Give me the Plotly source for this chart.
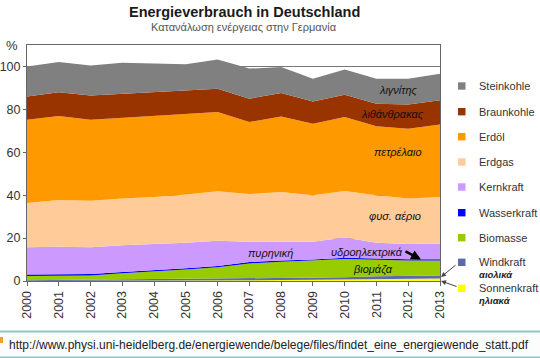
import plotly.graph_objects as go

# ---------------- data (percent, 2000 total = 100) ----------------
years = list(range(2000, 2014))
year_labels = [str(y) for y in years]

steinkohle = [14.0, 14.0, 14.0, 14.4, 13.4, 12.3, 13.6, 14.0, 12.1, 10.6, 11.8, 11.7, 12.0, 12.4]
braunkohle = [10.8, 11.1, 11.3, 11.2, 11.3, 11.0, 10.8, 10.9, 10.9, 10.4, 10.4, 10.5, 11.3, 11.3]
erdoel = [38.8, 39.2, 37.8, 37.6, 37.5, 37.4, 37.0, 33.6, 35.2, 33.3, 34.4, 32.1, 32.5, 33.7]
erdgas = [20.7, 21.7, 21.7, 21.8, 22.0, 22.5, 23.0, 22.2, 23.2, 21.7, 21.7, 22.2, 21.3, 21.7]
kernkraft = [12.7, 12.9, 12.4, 12.5, 12.2, 11.8, 11.8, 9.5, 8.7, 8.3, 9.5, 7.4, 7.1, 7.4]
wasserkraft = [0.7, 0.7, 0.7, 0.6, 0.6, 0.6, 0.6, 0.6, 0.6, 0.5, 0.6, 0.5, 0.6, 0.6]
biomasse = [2.0, 2.0, 2.05, 2.9, 3.55, 4.5, 5.3, 6.85, 7.55, 7.95, 8.45, 7.65, 7.1, 6.9]
windkraft = [0.3, 0.4, 0.5, 0.6, 0.7, 0.7, 0.8, 1.0, 1.0, 1.0, 1.0, 1.3, 1.3, 1.4]
sonnenkraft = [0.0, 0.02, 0.05, 0.1, 0.15, 0.2, 0.3, 0.35, 0.45, 0.55, 0.75, 0.95, 1.1, 1.2]

series_names = ["Steinkohle", "Braunkohle", "Erdöl", "Erdgas", "Kernkraft",
                "Wasserkraft", "Biomasse", "Windkraft", "Sonnenkraft"]
series_values = [steinkohle, braunkohle, erdoel, erdgas, kernkraft,
                 wasserkraft, biomasse, windkraft, sonnenkraft]
series_colors = ["#808080", "#993300", "#FF9900", "#FFCC99", "#CC99FF",
                 "#0000FF", "#99CC00", "#5C6BA6", "#FFFF00"]

y_ticks = [0, 20, 40, 60, 80, 100]

# ---------------- layout geometry (pixels) ----------------
W, H = 540, 358
L, R, T, B = 27, 440, 45, 281


def px(x):
    return (x - L) / (R - L)


def py(y):
    return (B - y) / (B - T)


fig = go.Figure()

# stack bottom-up: reverse of legend order
for name, vals, col in reversed(list(zip(series_names, series_values, series_colors))):
    fig.add_trace(go.Scatter(
        x=years, y=vals, name=name, stackgroup="one", mode="lines",
        line=dict(width=0, color=col), fillcolor=col, showlegend=False,
        hoverinfo="x+y+name"))

font_fam = "Arial, Liberation Sans, sans-serif"
annotations = []
shapes = []

# title & subtitle
annotations.append(dict(x=px(245), y=py(12), xref="paper", yref="paper",
                        text="<b>Energieverbrauch in Deutschland</b>", showarrow=False,
                        font=dict(family=font_fam, size=14.5, color="#1a1a1a"),
                        xanchor="center", yanchor="middle"))
annotations.append(dict(x=px(244), y=py(26.5), xref="paper", yref="paper",
                        text="Κατανάλωση ενέργειας στην Γερμανία", showarrow=False,
                        font=dict(family=font_fam, size=11, color="#555555"),
                        xanchor="center", yanchor="middle"))
annotations.append(dict(x=px(12), y=py(45), xref="paper", yref="paper",
                        text="%", showarrow=False,
                        font=dict(family=font_fam, size=13, color="#333333"),
                        xanchor="center", yanchor="middle"))

# custom legend
legend_y = [86, 111.7, 136.7, 162, 187, 212.7, 237.7, 262.3, 288.3]
for name, col, ly in zip(series_names, series_colors, legend_y):
    shapes.append(dict(type="rect", xref="paper", yref="paper",
                       x0=px(458), x1=px(465.5), y0=py(ly - 3.7), y1=py(ly + 3.7),
                       fillcolor=col, line=dict(width=0)))
    annotations.append(dict(x=px(477), y=py(ly), xref="paper", yref="paper",
                            text=name, showarrow=False,
                            font=dict(family=font_fam, size=11, color="#333333"),
                            xanchor="left", yanchor="middle"))
annotations.append(dict(x=px(477), y=py(274.5), xref="paper", yref="paper",
                        text="<b><i>αιολικά</i></b>", showarrow=False,
                        font=dict(family=font_fam, size=9.5, color="#222222"),
                        xanchor="left", yanchor="middle"))
annotations.append(dict(x=px(477), y=py(300), xref="paper", yref="paper",
                        text="<b><i>ηλιακά</i></b>", showarrow=False,
                        font=dict(family=font_fam, size=9.5, color="#222222"),
                        xanchor="left", yanchor="middle"))

# arrows from legend to thin bottom layers
annotations.append(dict(x=px(441), y=py(277), xref="paper", yref="paper", text="",
                        showarrow=True, ax=16, ay=-13, arrowhead=2, arrowsize=1,
                        arrowwidth=1, arrowcolor="#444444"))
annotations.append(dict(x=px(441), y=py(281), xref="paper", yref="paper", text="",
                        showarrow=True, ax=17, ay=6, arrowhead=2, arrowsize=1,
                        arrowwidth=1, arrowcolor="#444444"))

# Greek in-chart labels
greek_labels = [
    ("λιγνίτης", 398, 90),
    ("λιθάνθρακας", 392, 114),
    ("πετρέλαιο", 398, 152),
    ("φυσ. αέριο", 395, 216),
    ("πυρηνική", 270, 252.5),
    ("υδροηλεκτρικά", 367, 251.5),
    ("βιομάζα", 373, 269.5),
]
for txt, gx, gy in greek_labels:
    annotations.append(dict(x=px(gx), y=py(gy), xref="paper", yref="paper",
                            text="<i>" + txt + "</i>", showarrow=False,
                            font=dict(family=font_fam, size=11, color="#111111"),
                            xanchor="center", yanchor="middle"))

# black arrow to hydro layer
annotations.append(dict(x=px(421), y=py(259.5), xref="paper", yref="paper", text="",
                        showarrow=True, ax=-17, ay=-9, arrowhead=2, arrowsize=0.8,
                        arrowwidth=2.5, arrowcolor="#000000"))

# footer with URL
shapes.append(dict(type="rect", xref="paper", yref="paper",
                   x0=px(-1), x1=px(541), y0=py(331.5), y1=py(357.5),
                   fillcolor="#fbfdfd", line=dict(color="#8ec6c6", width=2)))
shapes.append(dict(type="rect", xref="paper", yref="paper",
                   x0=px(0), x1=px(3), y0=py(337), y1=py(343),
                   fillcolor="#f0a030", line=dict(width=0)))
annotations.append(dict(x=px(7), y=py(345), xref="paper", yref="paper",
                        text="http://www.physi.uni-heidelberg.de/energiewende/belege/files/findet_eine_energiewende_statt.pdf",
                        showarrow=False,
                        font=dict(family=font_fam, size=12, color="#222222"),
                        xanchor="left", yanchor="middle"))

fig.update_layout(
    width=W, height=H,
    margin=dict(l=L, r=W - R, t=T, b=H - B, pad=0, autoexpand=False),
    paper_bgcolor="white", plot_bgcolor="white",
    showlegend=False,
    annotations=annotations, shapes=shapes,
    xaxis=dict(range=[2000, 2013], tickvals=years, ticktext=year_labels,
               tickangle=-90, ticks="outside", ticklen=4, tickcolor="#666666",
               showline=True, linecolor="#666666", linewidth=1, mirror=True,
               showgrid=False, zeroline=False, automargin=False,
               tickfont=dict(family=font_fam, size=12.5, color="#333333")),
    yaxis=dict(range=[0, 110], tickvals=y_ticks, ticks="outside", ticklen=3,
               tickcolor="#666666", showline=True, linecolor="#666666",
               linewidth=1, mirror=True, showgrid=True, gridcolor="#777777",
               gridwidth=1, zeroline=False, automargin=False,
               tickfont=dict(family=font_fam, size=12.5, color="#333333")),
)

fig.write_html("out.html", config={"displayModeBar": False},
               post_script="document.body.style.margin='0';document.body.style.overflow='hidden';")
